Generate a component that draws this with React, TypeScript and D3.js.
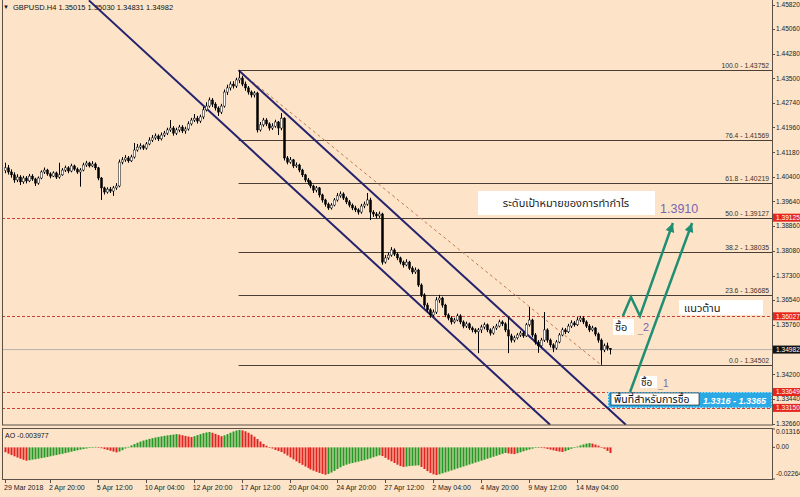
import React from "react";
import * as d3 from "d3";

const W = 800;
const H = 497;

// ---- price data (H4 bars, GBPUSD) ----
const firstOpen = 1.406;
const closes = [
  1.4069, 1.4056, 1.4047, 1.4031, 1.404, 1.4025, 1.4037, 1.4028, 1.4043, 1.4034,
  1.4021, 1.4037, 1.4056, 1.4062, 1.405, 1.4043, 1.4053, 1.404, 1.4047, 1.4062,
  1.4069, 1.4059, 1.4075, 1.4065, 1.4056, 1.4062, 1.4078, 1.4084, 1.4075, 1.4081,
  1.4069, 1.4037, 1.4006, 1.3993, 1.4002, 1.3996, 1.4006, 1.4012, 1.4087, 1.4094,
  1.41, 1.4091, 1.4103, 1.4125, 1.4134, 1.4138, 1.4131, 1.4144, 1.4156, 1.4163,
  1.4169, 1.416, 1.4172, 1.4178, 1.4188, 1.4194, 1.4178, 1.4188, 1.4197, 1.4185,
  1.4191, 1.4207, 1.4219, 1.4225, 1.4216, 1.4229, 1.4251, 1.4263, 1.4282, 1.4269,
  1.4257, 1.4244, 1.4263, 1.4307, 1.432, 1.4332, 1.4326, 1.4345, 1.4351, 1.4332,
  1.432, 1.4307, 1.4298, 1.4304, 1.4188, 1.4204, 1.4219, 1.4207, 1.4194, 1.42,
  1.4213, 1.4194, 1.4225, 1.41, 1.4087, 1.4094, 1.4075, 1.4078, 1.4062, 1.4047,
  1.4031, 1.4025, 1.4012, 1.3999, 1.4006, 1.3984, 1.3968, 1.3955, 1.3943, 1.3952,
  1.3968, 1.3981, 1.3987, 1.3974, 1.3962, 1.3952, 1.3943, 1.3937, 1.393, 1.3949,
  1.3955, 1.3968, 1.393, 1.3924, 1.3918, 1.3924, 1.3773, 1.3786, 1.3795, 1.3811,
  1.3798, 1.3786, 1.3773, 1.3764, 1.3773, 1.3754, 1.3742, 1.3748, 1.3701, 1.367,
  1.3638, 1.3623, 1.3607, 1.3616, 1.3654, 1.366, 1.3638, 1.3607, 1.3597, 1.3585,
  1.3591, 1.3604, 1.3585, 1.3572, 1.3579, 1.3566, 1.356, 1.3554, 1.356, 1.3569,
  1.3576, 1.356, 1.355, 1.3566, 1.3572, 1.3585, 1.3579, 1.356, 1.3541, 1.3528,
  1.3535, 1.3544, 1.355, 1.3541, 1.3576, 1.3591, 1.3544, 1.3522, 1.351, 1.3528,
  1.356, 1.3528, 1.3513, 1.3503, 1.3522, 1.3544, 1.356, 1.3554, 1.3572, 1.3582,
  1.3576, 1.3591, 1.3597, 1.3585, 1.3572, 1.356, 1.3566, 1.3547, 1.3528, 1.3497,
  1.351, 1.35015, 1.34982,
];
const highs = [
  1.4085, 1.4078, 1.4064, 1.4055, 1.4049, 1.4046, 1.4044, 1.4043, 1.405, 1.4049,
  1.4038, 1.4042, 1.4061, 1.407, 1.4066, 1.4055, 1.4058, 1.4057, 1.4085, 1.4068,
  1.4076, 1.4074, 1.4082, 1.4079, 1.407, 1.4068, 1.4085, 1.4091, 1.4088, 1.409,
  1.4086, 1.4072, 1.404, 1.401, 1.4008, 1.4009, 1.4012, 1.4021, 1.4095, 1.4103,
  1.4109, 1.4106, 1.411, 1.4147, 1.4144, 1.4146, 1.4142, 1.415, 1.4165, 1.4172,
  1.4177, 1.4174, 1.418, 1.4185, 1.4195, 1.4219, 1.42, 1.4195, 1.4204, 1.4203,
  1.4198, 1.4215, 1.4226, 1.4238, 1.4232, 1.4236, 1.426, 1.4275, 1.429, 1.4288,
  1.4275, 1.4262, 1.427, 1.4315, 1.433, 1.434, 1.4341, 1.4352, 1.43752, 1.4358,
  1.434, 1.4326, 1.4312, 1.431, 1.4308, 1.4213, 1.4226, 1.4225, 1.4212, 1.4209,
  1.422, 1.4216, 1.4241, 1.4228, 1.4106, 1.4103, 1.4097, 1.4086, 1.4082, 1.4066,
  1.405, 1.4037, 1.403, 1.4016, 1.4012, 1.4009, 1.3988, 1.3972, 1.396, 1.3958,
  1.3974, 1.399, 1.3995, 1.3992, 1.3979, 1.3968, 1.3957, 1.395, 1.3942, 1.3956,
  1.3963, 1.399, 1.3975, 1.3936, 1.393, 1.3932, 1.3928, 1.3795, 1.3803, 1.382,
  1.3816, 1.3803, 1.379, 1.3778, 1.3782, 1.3777, 1.376, 1.3756, 1.3752, 1.3706,
  1.3675, 1.3645, 1.3628, 1.3624, 1.3663, 1.367, 1.3664, 1.3642, 1.3612, 1.3603,
  1.3598, 1.3611, 1.3609, 1.359, 1.3586, 1.3583, 1.3571, 1.3565, 1.3566, 1.3576,
  1.3583, 1.358, 1.3565, 1.3572, 1.3579, 1.3592, 1.359, 1.3584, 1.3601, 1.3548,
  1.3542, 1.355, 1.3557, 1.3555, 1.3582, 1.3632, 1.3595, 1.355, 1.3528, 1.3535,
  1.3616, 1.3565, 1.3533, 1.3518, 1.3528, 1.355, 1.3567, 1.3566, 1.3579, 1.359,
  1.3588, 1.36, 1.3604, 1.3603, 1.359, 1.3578, 1.3573, 1.3569, 1.3552, 1.3533,
  1.3517, 1.352, 1.3503,
];
const lows = [
  1.4052, 1.4048, 1.4038, 1.4022, 1.4024, 1.4015, 1.4019, 1.402, 1.4024, 1.4028,
  1.4012, 1.4016, 1.4033, 1.405, 1.4044, 1.4036, 1.404, 1.4034, 1.4035, 1.4044,
  1.4056, 1.4052, 1.4055, 1.406, 1.405, 1.401, 1.4058, 1.4072, 1.407, 1.4071,
  1.4062, 1.403, 1.3968, 1.3985, 1.3988, 1.399, 1.3981, 1.4, 1.4008, 1.408,
  1.4088, 1.4085, 1.4087, 1.4098, 1.412, 1.4127, 1.4125, 1.4126, 1.414, 1.415,
  1.4157, 1.4153, 1.4155, 1.4166, 1.4172, 1.4182, 1.417, 1.4172, 1.4181, 1.4178,
  1.4176, 1.4186, 1.4202, 1.4213, 1.4208, 1.421, 1.4222, 1.4246, 1.4258, 1.426,
  1.4249, 1.4232, 1.4238, 1.4258, 1.4298, 1.4312, 1.4318, 1.432, 1.4335, 1.4325,
  1.4311, 1.4299, 1.429, 1.429, 1.418, 1.4183, 1.4198, 1.42, 1.4186, 1.4188,
  1.4195, 1.4172, 1.4187, 1.4092, 1.408, 1.4082, 1.4068, 1.4069, 1.4055, 1.404,
  1.4024, 1.4016, 1.4005, 1.399, 1.3992, 1.3976, 1.396, 1.3947, 1.3937, 1.3938,
  1.3948, 1.3963, 1.3975, 1.3968, 1.3955, 1.3945, 1.3936, 1.393, 1.3922, 1.3925,
  1.3942, 1.395, 1.3905, 1.3915, 1.391, 1.3912, 1.3765, 1.3768, 1.378, 1.379,
  1.3792, 1.3779, 1.3766, 1.3756, 1.376, 1.3748, 1.3735, 1.3736, 1.3695, 1.3663,
  1.363, 1.3615, 1.3598, 1.3602, 1.361, 1.3645, 1.363, 1.36, 1.359, 1.3577,
  1.358, 1.3587, 1.3578, 1.3565, 1.3566, 1.356, 1.3552, 1.3548, 1.3487, 1.355,
  1.3562, 1.3553, 1.3542, 1.3545, 1.356, 1.3568, 1.3572, 1.3553, 1.3487, 1.352,
  1.3521, 1.353, 1.3538, 1.3535, 1.3538, 1.357, 1.3537, 1.3514, 1.3488, 1.3505,
  1.3522, 1.352, 1.3505, 1.349, 1.3498, 1.3518, 1.354, 1.3547, 1.355, 1.3566,
  1.357, 1.3572, 1.3585, 1.3578, 1.3566, 1.3553, 1.3555, 1.354, 1.352, 1.34502,
  1.349, 1.3495, 1.34831,
];

// Awesome Oscillator values per bar
const aoValues = [
  -0.0035, -0.0045, -0.0055, -0.0064, -0.0073, -0.0081, -0.0089, -0.0095, -0.0092, -0.0088,
  -0.0085, -0.0081, -0.0077, -0.0073, -0.0069, -0.0064, -0.0059, -0.0055, -0.005, -0.0046,
  -0.0041, -0.0036, -0.0031, -0.0026, -0.0021, -0.0016, -0.0012, -0.0008, -0.0004, 0.0002,
  0.0004, 0.0001, -0.0006, -0.0012, -0.0018, -0.0024, -0.003, -0.0036, -0.003, -0.002,
  -0.0008, 0.0004, 0.0014, 0.0024, 0.0033, 0.0042, 0.0049, 0.0055, 0.0061, 0.0066,
  0.0071, 0.0075, 0.0079, 0.0083, 0.0086, 0.0089, 0.0092, 0.0095, 0.0092, 0.0087,
  0.0082, 0.0078, 0.0074, 0.008, 0.0088, 0.0095, 0.0102, 0.0107, 0.011, 0.0105,
  0.0097, 0.0088, 0.008, 0.0086, 0.0095, 0.0105, 0.0114, 0.0121, 0.0125, 0.0122,
  0.0115, 0.0105, 0.0092, 0.0077, 0.006, 0.0042, 0.0025, 0.0012, 0.0002, -0.0008,
  -0.0018, -0.0026, -0.0033, -0.0045, -0.0058, -0.0072, -0.0086, -0.01, -0.0113, -0.0125,
  -0.0137, -0.0148, -0.0158, -0.0167, -0.0175, -0.0183, -0.019, -0.0196, -0.019, -0.018,
  -0.0168, -0.0155, -0.0143, -0.0132, -0.0124, -0.0117, -0.0112, -0.0107, -0.0102, -0.0097,
  -0.0092, -0.0086, -0.0079, -0.0071, -0.0064, -0.0057, -0.0062, -0.0075, -0.0088, -0.01,
  -0.0112, -0.0124, -0.0134, -0.014, -0.0137, -0.0134, -0.0132, -0.013, -0.0129, -0.014,
  -0.0155, -0.017, -0.0183, -0.0193, -0.0198, -0.0193, -0.0186, -0.0179, -0.0172, -0.0165,
  -0.0158, -0.0151, -0.0144, -0.0137, -0.013, -0.0123, -0.0116, -0.0109, -0.0102, -0.0095,
  -0.0088, -0.0081, -0.0074, -0.0067, -0.006, -0.0053, -0.0046, -0.004, -0.0043, -0.0046,
  -0.0048, -0.0042, -0.0035, -0.0028, -0.0021, -0.0015, -0.0009, -0.0004, 0.0001, -0.0002,
  -0.0006, -0.0011, -0.0016, -0.0021, -0.0026, -0.003, -0.0033, -0.0027, -0.0019, -0.001,
  -0.0002, 0.0006, 0.0014, 0.0021, 0.0027, 0.0031, 0.0027, 0.002, 0.0012, 0.0003,
  -0.001, -0.0025, -0.003977,
];

const priceTicks = [
  1.4582, 1.4506, 1.4428, 1.435, 1.4274, 1.4196, 1.4118, 1.404, 1.3964, 1.3886,
  1.3808, 1.373, 1.3654, 1.3576, 1.342, 1.3344, 1.3266,
];
const timeLabels = [
  "29 Mar 2018", "2 Apr 20:00", "5 Apr 12:00", "10 Apr 04:00", "12 Apr 20:00",
  "17 Apr 12:00", "20 Apr 04:00", "24 Apr 20:00", "27 Apr 12:00", "2 May 04:00",
  "4 May 20:00", "9 May 12:00", "14 May 04:00",
];
const timeLabelBars = [0, 15, 31, 47, 63, 79, 95, 111, 127, 143, 159, 175, 191];

const fibLevels = ["100.0", "76.4", "61.8", "50.0", "38.2", "23.6", "0.0"];
const fibPrices = [1.43752, 1.41569, 1.40219, 1.39127, 1.38035, 1.36685, 1.34502];
const fibStartBar = 78;
const fibEndBar = 199;

const dashedLevels = [1.39125, 1.36027, 1.33649, 1.3315];
const currentPrice = 1.34982;

// channel lines: [bar, price] pairs
const channelLower = [[28, 1.4595], [182, 1.3262]];
const channelUpper = [[78, 1.43752], [207.3, 1.3262]];

// green arrows [bar, price]
const arrowZigzag = [[206.3, 1.36037], [209, 1.36633], [212, 1.36037], [223, 1.38958]];
const arrowStraight = [[208.7, 1.3365], [229.4, 1.38958]];

const buyZone = [1.3315, 1.33649];

const PLOT_L = 2;
const PLOT_R = 772;
const MAIN_B = 425;
const AO_T = 428;
const AO_B = 479;

const FONT = "'Liberation Sans', Arial, sans-serif";
const THAI = "'Noto Sans Thai', Tahoma, 'DejaVu Sans', sans-serif";

export default function App() {
  const x = d3.scaleLinear().domain([0, 202]).range([5, 610]);
  const y = d3.scaleLinear().domain([1.3266, 1.4582]).range([423.5, 4.5]);
  const aoY = d3.scaleLinear().domain([-0.02264, 0.013164]).range([AO_B, AO_T + 1]);
  const line = d3
    .line<number[]>()
    .x((d) => x(d[0]))
    .y((d) => y(d[1]));

  const opens = closes.map((c, i) => (i === 0 ? firstOpen : closes[i - 1]));

  const bg = "#fde4c8";
  const axisColor = "#5b5048";
  const teal = "#1f8e72";

  const boxLabels = [
    { p: 1.39125, fill: "#e5261d" },
    { p: 1.36027, fill: "#e5261d" },
    { p: currentPrice, fill: "#111" },
    { p: 1.33649, fill: "#e5261d" },
    { p: 1.3315, fill: "#e5261d" },
  ];

  const arrowHead = (pts: number[][]) => {
    const a = pts[pts.length - 2];
    const b = pts[pts.length - 1];
    const x1 = x(a[0]), y1 = y(a[1]), x2 = x(b[0]), y2 = y(b[1]);
    const ang = Math.atan2(y2 - y1, x2 - x1);
    const L = 9, Wd = 4.5;
    const bx = x2 - L * Math.cos(ang), by = y2 - L * Math.sin(ang);
    const px = -Math.sin(ang), py = Math.cos(ang);
    return `M${x2},${y2}L${bx + px * Wd},${by + py * Wd}L${bx - px * Wd},${by - py * Wd}Z`;
  };

  return (
    <svg width={W} height={H} style={{ display: "block", position: "absolute", left: 0, top: 0 }}>
      <defs>
        <clipPath id="mainClip">
          <rect x={PLOT_L} y={0} width={PLOT_R - PLOT_L} height={MAIN_B} />
        </clipPath>
        <clipPath id="aoClip">
          <rect x={PLOT_L} y={AO_T} width={PLOT_R - PLOT_L} height={AO_B - AO_T} />
        </clipPath>
      </defs>
      <rect x={0} y={0} width={W} height={H} fill={bg} />

      {/* header */}
      <text x={3} y={9} fontFamily={FONT} fontSize={6} fill="#111">▼</text>
      <text x={13} y={10} fontFamily={FONT} fontSize={7.5} fill="#111">
        GBPUSD.H4  1.35015 1.35030 1.34831 1.34982
      </text>

      <g clipPath="url(#mainClip)">
        {/* current price line */}
        <line x1={PLOT_L} x2={PLOT_R} y1={y(currentPrice)} y2={y(currentPrice)} stroke="#b9b2aa" strokeWidth={1} />
        {/* dashed red levels */}
        {dashedLevels.map((p) => (
          <line key={p} x1={PLOT_L} x2={PLOT_R} y1={Math.round(y(p)) + 0.5} y2={Math.round(y(p)) + 0.5}
            stroke="#c8413a" strokeWidth={1} strokeDasharray="3,2" />
        ))}
        {/* buy zone */}
        <rect x={608} y={y(buyZone[1])} width={PLOT_R - 608} height={y(buyZone[0]) - y(buyZone[1])} fill="#2aa9e4" />
        <rect x={608.5} y={y(buyZone[1]) + 0.5} width={PLOT_R - 609} height={y(buyZone[0]) - y(buyZone[1]) - 1}
          fill="none" stroke="#ffffff" strokeWidth={1} strokeDasharray="1,2" />
        {/* fib lines */}
        {fibPrices.map((p, i) => (
          <g key={p}>
            <line x1={x(fibStartBar)} x2={PLOT_R} y1={Math.round(y(p)) + 0.5} y2={Math.round(y(p)) + 0.5}
              stroke="#4a3f36" strokeWidth={1} />
            <text x={769} y={Math.round(y(p)) - 2} textAnchor="end" fontFamily={FONT} fontSize={6.8} fill="#3a302a">
              {`${fibLevels[i]} - ${p.toFixed(5)}`}
            </text>
          </g>
        ))}
        {/* fib diagonal */}
        <line x1={x(fibStartBar)} y1={y(fibPrices[0])} x2={x(fibEndBar)} y2={y(fibPrices[6])}
          stroke="#c27a50" strokeWidth={1} strokeDasharray="3,3" />
        {/* channel */}
        {[channelLower, channelUpper].map((c, i) => (
          <path key={i} d={line(c) || ""} stroke="#26236e" strokeWidth={2} fill="none" />
        ))}
        {/* candles */}
        {closes.map((c, i) => {
          const o = opens[i];
          const cx = Math.round(x(i)) + 0.5;
          const top = y(Math.max(o, c));
          const bot = y(Math.min(o, c));
          const bull = c >= o;
          return (
            <g key={i}>
              <line x1={cx} x2={cx} y1={y(highs[i])} y2={y(lows[i])} stroke="#000" strokeWidth={1} />
              <rect x={cx - 1} y={top} width={2} height={Math.max(1, bot - top)}
                fill={bull ? "#ffffff" : "#000"} stroke="#000" strokeWidth={0.5} />
            </g>
          );
        })}
        {/* green arrows */}
        <path d={line(arrowZigzag) || ""} stroke={teal} strokeWidth={2.5} fill="none" strokeLinejoin="miter" />
        <path d={arrowHead(arrowZigzag)} fill={teal} />
        <path d={line(arrowStraight) || ""} stroke={teal} strokeWidth={2.5} fill="none" />
        <path d={arrowHead(arrowStraight)} fill={teal} />

        {/* annotations */}
        <rect x={478} y={191} width={177} height={24} fill="#ffffff" />
        <text x={566} y={207} textAnchor="middle" fontFamily={THAI} fontSize={11} fill="#222">
          ระดับเป้าหมายของการทำกำไร
        </text>
        <text x={660} y={213} fontFamily={FONT} fontSize={12.5} fill="#7867b0">1.3910</text>

        <rect x={679} y={300} width={84} height={15} fill="#ffffff" />
        <text x={684} y={312} fontFamily={THAI} fontSize={11} fill="#222">แนวต้าน</text>

        <rect x={613} y={319} width={21} height={16} fill="#ffffff" />
        <text x={615} y={331} fontFamily={THAI} fontSize={11} fill="#222">ซื้อ</text>
        <text x={638} y={333} fontFamily={FONT} fontSize={9} fill="#888">_</text>
        <text x={643} y={331} fontFamily={FONT} fontSize={11} fill="#7867b0">2</text>

        <rect x={640} y={376} width={17} height={12} fill="#ffffff" />
        <text x={641} y={386} fontFamily={THAI} fontSize={10} fill="#222">ซื้อ</text>
        <text x={658} y={388} fontFamily={FONT} fontSize={9} fill="#888">_</text>
        <text x={663} y={387} fontFamily={FONT} fontSize={10} fill="#7867b0">1</text>

        <rect x={611} y={393} width={88} height={12} fill="#ffffff" stroke="#111" strokeWidth={0.6} />
        <text x={614} y={403} fontFamily={THAI} fontSize={10.5} fill="#111">พื้นที่สำหรับการซื้อ</text>
        <text x={703} y={404} fontFamily={FONT} fontSize={9} fontStyle="italic" fontWeight="bold" fill="#ffffff">
          1.3316 - 1.3365
        </text>
      </g>

      {/* AO histogram */}
      <g clipPath="url(#aoClip)">
        {aoValues.map((v, i) => {
          const up = i > 0 && v > aoValues[i - 1];
          const y0 = aoY(Math.max(0, v));
          const y1 = aoY(Math.min(0, v));
          return (
            <rect key={i} x={Math.round(x(i)) - 0.5} y={y0} width={2} height={Math.max(0.6, y1 - y0)}
              fill={up ? "#239a25" : "#e2231f"} />
          );
        })}
      </g>
      <text x={5} y={438} fontFamily={FONT} fontSize={7} fill="#111">AO -0.003977</text>

      {/* frames */}
      <rect x={PLOT_L + 0.5} y={-1} width={PLOT_R - PLOT_L} height={MAIN_B + 1} fill="none" stroke={axisColor} strokeWidth={1} />
      <rect x={PLOT_L + 0.5} y={AO_T + 0.5} width={PLOT_R - PLOT_L} height={AO_B - AO_T} fill="none" stroke={axisColor} strokeWidth={1} />

      {/* price axis */}
      {priceTicks.map((p) => (
        <g key={p}>
          <line x1={PLOT_R} x2={PLOT_R + 3} y1={Math.round(y(p)) + 0.5} y2={Math.round(y(p)) + 0.5} stroke={axisColor} />
          <text x={776} y={y(p) + 2.3} fontFamily={FONT} fontSize={6.6} fill="#222">{p.toFixed(5)}</text>
        </g>
      ))}
      {boxLabels.map((b) => (
        <g key={b.p}>
          <rect x={773} y={y(b.p) - 4} width={27} height={8} fill={b.fill} />
          <text x={776} y={y(b.p) + 2.3} fontFamily={FONT} fontSize={6.6} fill="#fff">{b.p.toFixed(5)}</text>
        </g>
      ))}

      {/* AO axis */}
      {[0.013164, 0, -0.02264].map((v, i) => (
        <g key={v}>
          <line x1={PLOT_R} x2={PLOT_R + 3} y1={aoY(v)} y2={aoY(v)} stroke={axisColor} />
          <text x={776} y={[434, 449, 476][i]} fontFamily={FONT} fontSize={6.6} fill="#222">
            {i === 1 ? "0.00" : v.toFixed(6)}
          </text>
        </g>
      ))}

      {/* time axis */}
      {timeLabels.map((t, i) => (
        <g key={t}>
          <line x1={Math.round(x(timeLabelBars[i])) + 0.5} x2={Math.round(x(timeLabelBars[i])) + 0.5}
            y1={AO_B} y2={AO_B + 4} stroke={axisColor} />
          <text x={x(timeLabelBars[i]) - 1} y={490} fontFamily={FONT} fontSize={7} fill="#222">{t}</text>
        </g>
      ))}
    </svg>
  );
}
